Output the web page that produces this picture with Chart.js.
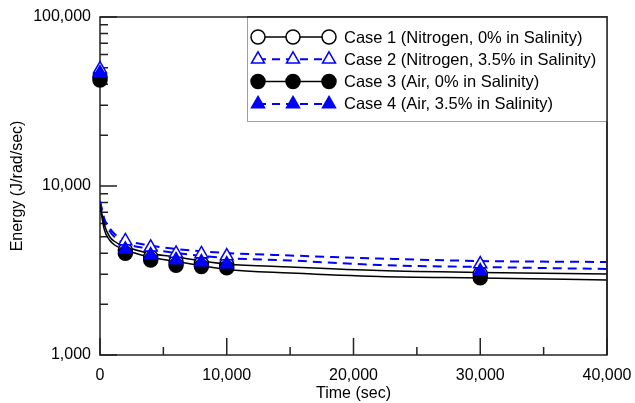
<!DOCTYPE html>
<html>
<head>
<meta charset="utf-8">
<script src="https://cdn.jsdelivr.net/npm/chart.js@4.4.0/dist/chart.umd.min.js"></script>
<style>
  html, body { margin: 0; padding: 0; background: #fff; }
  #chart { display: block; }
</style>
</head>
<body>
<canvas id="chart" width="635" height="403"></canvas>
<script>
// ---- values ----
const caseLabels = [
    'Case 1 (Nitrogen, 0% in Salinity)',
    'Case 2 (Nitrogen, 3.5% in Salinity)',
    'Case 3 (Air, 0% in Salinity)',
    'Case 4 (Air, 3.5% in Salinity)'
];

// continuous curves
const curveTimes = [0, 350, 750, 1150, 2000, 3750, 6000, 10000, 15000, 22000, 30000, 40000];
const case1Curve = [7825, 5878, 5025, 4694, 4385, 4014, 3801, 3455, 3317, 3162, 3078, 3016];
const case2Curve = [8150, 6378, 5643, 5200, 4791, 4476, 4239, 4014, 3880, 3724, 3599, 3550];
const case3Curve = [7615, 5490, 4791, 4476, 4181, 3826, 3575, 3205, 3057, 2914, 2855, 2779];
const case4Curve = [8040, 6207, 5416, 4990, 4568, 4268, 4014, 3750, 3624, 3408, 3317, 3228];

// marker points
const markerTimes = [0, 2000, 4000, 6000, 8000, 10000, 30000];
const case1Markers = [44150, 4170, 3800, 3550, 3480, 3420, 3020];
const case2Markers = [49200, 4730, 4340, 3990, 3960, 3850, 3450];
const case3Markers = [42400, 4000, 3650, 3400, 3340, 3280, 2860];
const case4Markers = [46600, 4220, 3900, 3650, 3550, 3450, 3140];

const xTicks = [0, 10000, 20000, 30000, 40000];
const xMinorTicks = [5000, 15000, 25000, 35000];
const yTicks = [1000, 10000, 100000];

const BLUE = '#0000ff';

const cases = [
    { label: caseLabels[0], curve: case1Curve, markers: case1Markers, color: '#000', dash: [], shape: 'circle', filled: false },
    { label: caseLabels[1], curve: case2Curve, markers: case2Markers, color: BLUE, dash: [9, 6], shape: 'triangle', filled: false },
    { label: caseLabels[2], curve: case3Curve, markers: case3Markers, color: '#000', dash: [], shape: 'circle', filled: true },
    { label: caseLabels[3], curve: case4Curve, markers: case4Markers, color: BLUE, dash: [9, 6], shape: 'triangle', filled: true }
];

const toPoints = (xs, ys) => xs.map((x, i) => ({ x: x, y: ys[i] }));

const datasets = [];
cases.forEach((c, i) => {
    datasets.push({
        label: c.label + ' (curve)',
        data: toPoints(curveTimes, c.curve),
        borderColor: c.color,
        borderWidth: c.dash.length ? 2 : 1.5,
        borderDash: c.dash,
        pointRadius: 0,
        cubicInterpolationMode: 'monotone',
        order: 10 + i
    });
    datasets.push({
        label: c.label,
        data: toPoints(markerTimes, c.markers),
        showLine: false,
        pointStyle: c.shape,
        pointRadius: c.shape === 'triangle' ? 7.5 : 7,
        pointBackgroundColor: c.filled ? c.color : '#fff',
        pointBorderColor: c.color,
        pointBorderWidth: 1.5,
        clip: false,
        order: 4 - i
    });
});

function drawMarker(ctx, c, x, y) {
    ctx.beginPath();
    if (c.shape === 'circle') {
        ctx.arc(x, y, 7, 0, Math.PI * 2);
    } else {
        const r = 7.5;
        ctx.moveTo(x, y - r);
        ctx.lineTo(x + r * 0.866, y + r * 0.5);
        ctx.lineTo(x - r * 0.866, y + r * 0.5);
        ctx.closePath();
    }
    ctx.fillStyle = c.filled ? c.color : '#fff';
    ctx.fill();
    ctx.setLineDash([]);
    ctx.lineWidth = 1.5;
    ctx.strokeStyle = c.color;
    ctx.stroke();
}

// frame + inner tick marks (drawn under the data), legend box on top
const framePlugin = {
    id: 'frame',
    beforeDatasetsDraw(chart) {
        const { ctx, chartArea: a, scales } = chart;
        ctx.save();
        ctx.strokeStyle = '#222';
        ctx.lineWidth = 1.5;
        ctx.strokeRect(a.left, a.top, a.right - a.left, a.bottom - a.top);

        ctx.beginPath();
        // y ticks, pointing into the plot
        for (let d = 1000; d < 100000; d *= 10) {
            for (let m = 1; m <= 10; m++) {
                const y = scales.y.getPixelForValue(d * m);
                const len = (m === 1 || m === 10) ? 17 : 8;
                ctx.moveTo(a.left, y);
                ctx.lineTo(a.left + len, y);
            }
        }
        // x ticks, pointing up
        xTicks.forEach(v => {
            const x = scales.x.getPixelForValue(v);
            ctx.moveTo(x, a.bottom);
            ctx.lineTo(x, a.bottom - 17);
        });
        xMinorTicks.forEach(v => {
            const x = scales.x.getPixelForValue(v);
            ctx.moveTo(x, a.bottom);
            ctx.lineTo(x, a.bottom - 8);
        });
        ctx.stroke();
        ctx.restore();
    },
    afterDatasetsDraw(chart) {
        const { ctx, chartArea: a } = chart;
        const boxW = 360, boxH = 104;
        const left = a.right - boxW, top = a.top;
        ctx.save();
        ctx.fillStyle = '#fff';
        ctx.fillRect(left, top, boxW, boxH);
        ctx.strokeStyle = '#a0a0a0';
        ctx.lineWidth = 1;
        ctx.strokeRect(left + 0.5, top + 0.5, boxW, boxH);

        ctx.font = '16.5px "Liberation Sans", Arial, sans-serif';
        ctx.textBaseline = 'middle';
        ctx.textAlign = 'left';
        cases.forEach((c, i) => {
            const y = top + 20 + i * 22.3;
            const xs = [left + 11, left + 46, left + 82];
            ctx.beginPath();
            ctx.moveTo(xs[0], y);
            ctx.lineTo(xs[2], y);
            ctx.strokeStyle = c.color;
            ctx.lineWidth = c.dash.length ? 2 : 1.5;
            ctx.setLineDash(c.dash.length ? [8, 6] : []);
            ctx.stroke();
            xs.forEach(x => drawMarker(ctx, c, x, y));
            ctx.fillStyle = '#000';
            ctx.fillText(c.label, left + 97, y + 1);
        });

        // top and right frame edges again over the box
        ctx.setLineDash([]);
        ctx.strokeStyle = '#222';
        ctx.lineWidth = 1.5;
        ctx.beginPath();
        ctx.moveTo(left, a.top);
        ctx.lineTo(a.right, a.top);
        ctx.lineTo(a.right, a.bottom);
        ctx.stroke();
        ctx.restore();
    }
};

Chart.defaults.font.family = '"Liberation Sans", Arial, sans-serif';
Chart.defaults.font.size = 16;
Chart.defaults.color = '#000';

new Chart(document.getElementById('chart'), {
    type: 'line',
    data: { datasets: datasets },
    options: {
        responsive: false,
        animation: false,
        layout: { padding: { left: 0, right: 28, top: 17, bottom: 0 } },
        plugins: {
            legend: { display: false },
            tooltip: { enabled: false }
        },
        scales: {
            x: {
                type: 'linear',
                min: 0,
                max: 40000,
                afterFit: s => { s.height = 48; s.paddingLeft = 0; s.paddingRight = 0; },
                afterBuildTicks: s => { s.ticks = xTicks.map(v => ({ value: v })); },
                grid: { display: false, drawTicks: false },
                border: { display: false },
                ticks: {
                    padding: 11,
                    maxRotation: 0,
                    callback: v => Number(v).toLocaleString('en-US')
                },
                title: { display: true, text: 'Time (sec)', padding: 0 }
            },
            y: {
                type: 'logarithmic',
                min: 1000,
                max: 100000,
                afterFit: s => { s.width = 100; s.paddingTop = 0; s.paddingBottom = 0; },
                afterBuildTicks: s => { s.ticks = yTicks.map(v => ({ value: v })); },
                grid: { display: false, drawTicks: false },
                border: { display: false },
                ticks: {
                    padding: 9,
                    callback: v => Number(v).toLocaleString('en-US')
                },
                title: { display: true, text: 'Energy (J/rad/sec)', padding: { top: 8, bottom: 0 } }
            }
        }
    },
    plugins: [framePlugin]
});
</script>
</body>
</html>
